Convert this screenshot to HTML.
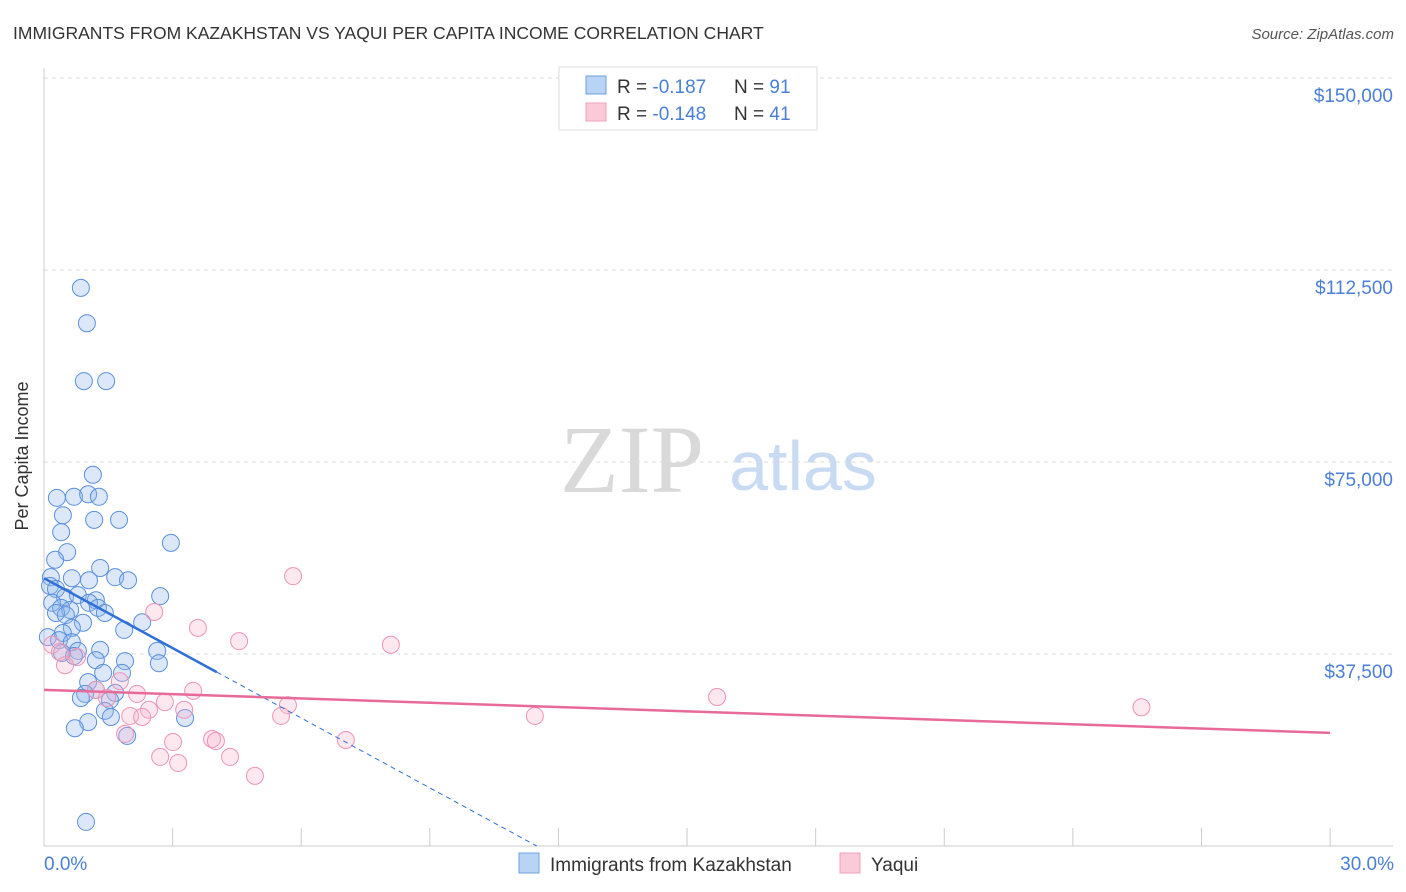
<!DOCTYPE html>
<html><head><meta charset="utf-8"><style>
body{margin:0;background:#fff;font-family:"Liberation Sans",sans-serif}
#wrap{position:relative;width:1406px;height:892px;overflow:hidden}
</style></head><body>
<div id="wrap">
<svg id="svg" width="1406" height="892" xmlns="http://www.w3.org/2000/svg">
<text x="13" y="39" font-size="17.5" fill="#333">IMMIGRANTS FROM KAZAKHSTAN VS YAQUI PER CAPITA INCOME CORRELATION CHART</text>
<text x="1394" y="39" font-size="15" fill="#555" font-style="italic" text-anchor="end">Source: ZipAtlas.com</text>
<text x="632" y="492" font-size="96" fill="#d9d9d9" font-family="Liberation Serif,serif" text-anchor="middle">ZIP</text>
<text x="803" y="490" font-size="70" fill="#c9dbf2" text-anchor="middle">atlas</text>
<g id="grid"></g><g id="axes"></g><g id="pts"></g><g id="lines"></g>
<text x="28" y="456" font-size="18" fill="#333" text-anchor="middle" transform="rotate(-90 28 456)">Per Capita Income</text>
<text x="44" y="870" font-size="19" fill="#4a7fd4">0.0%</text>
<text x="1394" y="870" font-size="19" fill="#4a7fd4" text-anchor="end">30.0%</text>
<g>
<rect x="559" y="67" width="258" height="63" fill="#fff" stroke="#ddd"/>
<rect x="586" y="76" width="20" height="18" fill="#b9d3f5" stroke="#6fa0e0"/>
<rect x="586" y="103" width="20" height="18" fill="#fbcad9" stroke="#f0a0bd"/>
<text x="617" y="93" font-size="19" fill="#333">R = <tspan fill="#4a7fd4">-0.187</tspan><tspan x="734">N = </tspan><tspan fill="#4a7fd4">91</tspan></text>
<text x="617" y="120" font-size="19" fill="#333">R = <tspan fill="#4a7fd4">-0.148</tspan><tspan x="734">N = </tspan><tspan fill="#4a7fd4">41</tspan></text>
</g>
<g>
<rect x="519" y="853" width="20" height="20" fill="#b9d3f5" stroke="#6fa0e0"/>
<text x="550" y="871" font-size="19" fill="#333">Immigrants from Kazakhstan</text>
<rect x="840" y="853" width="20" height="20" fill="#fbcad9" stroke="#f0a0bd"/>
<text x="871" y="871" font-size="19" fill="#333">Yaqui</text>
</g>
</svg></div>
<script>
const yTicks=[37500,75000,112500,150000];
const yTickLabels=["$37,500","$75,000","$112,500","$150,000"];
const xTicks=[0,3,6,9,12,15,18,21,24,27,30];
const blueX=[0.86,1.0,0.93,1.45,1.14,0.30,0.70,1.03,1.28,0.44,1.17,1.75,0.40,2.96,0.54,0.26,0.16,1.31,0.65,1.05,1.66,1.96,0.14,0.28,2.71,0.49,0.79,1.21,0.19,1.05,0.40,0.61,1.26,1.42,0.28,0.51,2.29,0.91,0.65,1.87,0.44,0.09,0.35,0.65,2.64,0.79,1.31,0.42,0.70,1.21,1.89,2.68,1.38,1.82,1.03,1.21,1.66,0.96,0.86,1.54,1.42,1.56,3.29,1.03,0.72,1.94,0.98];
const blueY=[109.0,102.1,90.8,90.8,72.5,68.0,68.2,68.7,68.2,64.6,63.7,63.7,61.3,59.2,57.4,55.9,52.5,54.3,52.3,51.9,52.5,51.9,50.8,50.2,48.8,48.6,49.0,48.0,47.5,47.5,46.5,46.1,46.5,45.5,45.5,45.1,43.7,43.6,42.6,42.2,41.6,40.8,40.2,39.8,38.1,38.1,38.3,37.7,37.1,36.3,36.1,35.7,33.8,33.8,32.0,30.5,29.9,29.7,28.9,28.5,26.4,25.2,25.0,24.2,23.0,21.5,4.7];
const pinkX=[5.81,2.57,3.59,4.55,8.09,0.19,0.37,0.77,0.49,1.77,1.21,2.17,3.48,15.7,1.47,2.82,5.69,25.6,2.45,3.27,2.01,2.29,5.53,11.45,1.89,7.04,3.01,3.92,4.01,4.34,2.71,3.13,4.92];
const pinkY=[52.7,45.7,42.6,40.0,39.3,39.3,37.9,36.9,35.3,32.2,30.5,29.7,30.3,29.1,28.9,28.1,27.5,27.1,26.6,26.6,25.4,25.2,25.4,25.4,21.9,20.7,20.3,20.9,20.5,17.4,17.4,16.2,13.7];
const blueTrend=[52.3,-4.55]; const blueSolidEnd=4.03;
const pinkTrend=[30.5,-0.28];
const X=v=>44+v*42.87;
const NS="http://www.w3.org/2000/svg";
function mk(g,t,a){const e=document.createElementNS(NS,t);for(const k in a)e.setAttribute(k,a[k]);document.getElementById(g).appendChild(e);return e;}
yTicks.forEach((t,i)=>{const y=846-t/195.3;
const l=mk('grid','line',{x1:44,x2:1393,y1:y,y2:y,stroke:'#ddd','stroke-dasharray':'4,4'});


const tx=mk('grid','text',{x:1393,y:y+24,'font-size':19,fill:'#4a7fd4','text-anchor':'end'});tx.textContent=yTickLabels[i];

});
mk('axes','line',{x1:44,x2:44,y1:68,y2:846,stroke:'#ccc'});
mk('axes','line',{x1:44,x2:1393,y1:846,y2:846,stroke:'#ccc'});
xTicks.forEach(t=>{const l=mk('axes','line',{x1:X(t),x2:X(t),y1:828,y2:846,stroke:'#ccc'});

});
const Yk=v=>846-v*1000/195.3;
blueX.forEach((x,i)=>{const c=mk('pts','circle',{cx:X(x),cy:Yk(blueY[i]),r:8.5,fill:'rgba(140,180,235,0.3)',stroke:'#5a90dc','stroke-width':1});

});
pinkX.forEach((x,i)=>{const c=mk('pts','circle',{cx:X(x),cy:Yk(pinkY[i]),r:8.5,fill:'rgba(248,180,205,0.3)',stroke:'#ec94b5','stroke-width':1});

});
const bz=-blueTrend[0]/blueTrend[1];
let l1=mk('lines','line',{x1:X(0),y1:Yk(blueTrend[0]),x2:X(blueSolidEnd),y2:Yk(blueTrend[0]+blueTrend[1]*blueSolidEnd),stroke:'#2f6fd8','stroke-width':2.5});


let l2=mk('lines','line',{x1:X(blueSolidEnd),y1:Yk(blueTrend[0]+blueTrend[1]*blueSolidEnd),x2:X(bz),y2:Yk(0),stroke:'#2f6fd8','stroke-width':1,'stroke-dasharray':'5,4'});


let l3=mk('lines','line',{x1:X(0),y1:Yk(pinkTrend[0]),x2:X(30),y2:Yk(pinkTrend[0]+pinkTrend[1]*30),stroke:'#e86a98','stroke-width':2.5});


</script>
</body></html>
